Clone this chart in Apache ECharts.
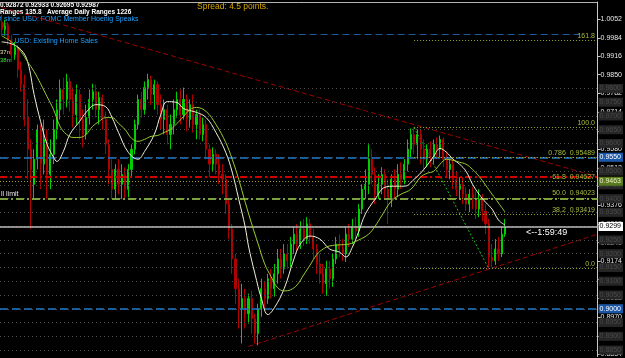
<!DOCTYPE html>
<html><head><meta charset="utf-8">
<script src="https://cdn.jsdelivr.net/npm/echarts@6/dist/echarts.min.js"></script>
<style>html,body{margin:0;padding:0;background:#000;}#c{width:625px;height:358px;}</style>
</head><body><div id="c"></div>
<script>
const openP = [1.0041,1.0013,1.0027,0.9976,0.9922,0.9948,0.9868,0.9814,0.9694,0.9579,
0.9452,0.9543,0.9651,0.9525,0.9615,0.9488,0.9561,0.9651,0.9723,0.9796,
0.9760,0.9825,0.9760,0.9705,0.9778,0.9687,0.9633,0.9694,0.9760,0.9788,
0.9723,0.9767,0.9687,0.9597,0.9506,0.9434,0.9506,0.9452,0.9488,0.9434,
0.9506,0.9579,0.9669,0.9760,0.9723,0.9803,0.9832,0.9778,0.9814,0.9741,
0.9687,0.9723,0.9633,0.9669,0.9723,0.9760,0.9705,0.9760,0.9687,0.9741,
0.9669,0.9705,0.9633,0.9669,0.9579,0.9525,0.9561,0.9525,0.9488,0.9470,
0.9380,0.9290,0.9181,0.9073,0.9000,0.9037,0.8982,0.9037,0.8964,0.8910,
0.9000,0.9073,0.9037,0.9109,0.9073,0.9127,0.9181,0.9145,0.9199,0.9174,
0.9235,0.9271,0.9235,0.9290,0.9253,0.9308,0.9261,0.9217,0.9163,0.9127,
0.9091,0.9145,0.9109,0.9181,0.9235,0.9217,0.9199,0.9271,0.9253,0.9297,
0.9282,0.9362,0.9434,0.9452,0.9543,0.9488,0.9416,0.9452,0.9488,0.9434,
0.9398,0.9470,0.9434,0.9488,0.9470,0.9525,0.9579,0.9633,0.9597,0.9633,
0.9579,0.9543,0.9579,0.9550,0.9597,0.9579,0.9615,0.9543,0.9506,0.9525,
0.9470,0.9434,0.9452,0.9416,0.9380,0.9416,0.9398,0.9362,0.9398,0.9355,
0.9308,0.9188,0.9174,0.9217,0.9199,0.9271];
const closeP = [1.0013,1.0027,0.9976,0.9922,0.9948,0.9868,0.9814,0.9687,0.9579,0.9506,
0.9543,0.9651,0.9525,0.9615,0.9488,0.9561,0.9651,0.9723,0.9796,0.9760,
0.9825,0.9760,0.9705,0.9778,0.9687,0.9633,0.9694,0.9760,0.9788,0.9723,
0.9767,0.9687,0.9597,0.9506,0.9434,0.9506,0.9452,0.9488,0.9434,0.9506,
0.9579,0.9669,0.9760,0.9723,0.9803,0.9832,0.9778,0.9814,0.9741,0.9687,
0.9723,0.9633,0.9669,0.9723,0.9760,0.9705,0.9760,0.9687,0.9741,0.9669,
0.9705,0.9633,0.9669,0.9579,0.9525,0.9561,0.9525,0.9488,0.9470,0.9380,
0.9290,0.9181,0.9073,0.9000,0.9037,0.8982,0.9037,0.8964,0.8910,0.9000,
0.9073,0.9037,0.9109,0.9073,0.9127,0.9181,0.9145,0.9199,0.9174,0.9235,
0.9271,0.9235,0.9290,0.9253,0.9308,0.9261,0.9217,0.9163,0.9127,0.9091,
0.9145,0.9109,0.9181,0.9235,0.9217,0.9199,0.9271,0.9253,0.9297,0.9282,
0.9362,0.9434,0.9452,0.9543,0.9488,0.9416,0.9452,0.9488,0.9434,0.9398,
0.9470,0.9434,0.9488,0.9470,0.9525,0.9579,0.9633,0.9597,0.9633,0.9579,
0.9543,0.9579,0.9550,0.9597,0.9579,0.9615,0.9543,0.9506,0.9525,0.9470,
0.9434,0.9452,0.9416,0.9380,0.9416,0.9398,0.9362,0.9398,0.9355,0.9308,
0.9188,0.9174,0.9217,0.9199,0.9271,0.92987];
const highP = [1.0067,1.0049,1.0041,0.9994,0.9969,0.9958,0.9897,0.9850,0.9760,0.9615,
0.9579,0.9669,0.9669,0.9687,0.9651,0.9615,0.9687,0.9760,0.9832,0.9839,
0.9853,0.9839,0.9803,0.9814,0.9796,0.9723,0.9741,0.9796,0.9817,0.9814,
0.9788,0.9778,0.9716,0.9615,0.9543,0.9525,0.9543,0.9525,0.9514,0.9525,
0.9597,0.9687,0.9778,0.9788,0.9825,0.9853,0.9846,0.9832,0.9825,0.9778,
0.9760,0.9741,0.9705,0.9760,0.9788,0.9796,0.9803,0.9778,0.9760,0.9778,
0.9723,0.9723,0.9694,0.9687,0.9597,0.9586,0.9579,0.9561,0.9525,0.9488,
0.9398,0.9308,0.9199,0.9109,0.9091,0.9073,0.9055,0.9065,0.8982,0.9018,
0.9109,0.9098,0.9127,0.9145,0.9163,0.9217,0.9217,0.9235,0.9235,0.9261,
0.9297,0.9308,0.9318,0.9326,0.9333,0.9326,0.9290,0.9235,0.9199,0.9163,
0.9174,0.9174,0.9199,0.9261,0.9271,0.9253,0.9297,0.9308,0.9326,0.9333,
0.9380,0.9452,0.9506,0.9597,0.9579,0.9514,0.9488,0.9514,0.9506,0.9470,
0.9488,0.9506,0.9525,0.9532,0.9543,0.9615,0.9655,0.9658,0.9651,0.9651,
0.9615,0.9597,0.9608,0.9615,0.9622,0.9629,0.9622,0.9571,0.9550,0.9543,
0.9499,0.9478,0.9478,0.9441,0.9434,0.9441,0.9427,0.9434,0.9416,0.9380,
0.9326,0.9235,0.9253,0.9261,0.9297,0.9326];
const lowP = [0.9994,0.9991,0.9958,0.9897,0.9904,0.9839,0.9788,0.9662,0.9470,0.9290,
0.9398,0.9506,0.9434,0.9488,0.9398,0.9434,0.9525,0.9615,0.9687,0.9705,
0.9731,0.9716,0.9658,0.9669,0.9615,0.9586,0.9615,0.9669,0.9723,0.9694,
0.9669,0.9651,0.9561,0.9452,0.9398,0.9398,0.9416,0.9398,0.9398,0.9405,
0.9478,0.9561,0.9651,0.9694,0.9705,0.9760,0.9741,0.9723,0.9705,0.9651,
0.9633,0.9597,0.9579,0.9633,0.9694,0.9669,0.9687,0.9644,0.9658,0.9640,
0.9615,0.9615,0.9608,0.9543,0.9478,0.9499,0.9488,0.9452,0.9416,0.9344,
0.9253,0.9127,0.9018,0.8928,0.8874,0.8928,0.8946,0.8910,0.8874,0.8867,
0.8971,0.9000,0.9018,0.9037,0.9044,0.9091,0.9109,0.9127,0.9145,0.9152,
0.9199,0.9210,0.9217,0.9228,0.9235,0.9235,0.9181,0.9127,0.9091,0.9055,
0.9047,0.9073,0.9080,0.9163,0.9188,0.9174,0.9170,0.9224,0.9235,0.9253,
0.9261,0.9344,0.9398,0.9416,0.9452,0.9380,0.9398,0.9416,0.9398,0.9308,
0.9369,0.9398,0.9405,0.9434,0.9452,0.9499,0.9550,0.9561,0.9543,0.9525,
0.9499,0.9514,0.9514,0.9525,0.9543,0.9550,0.9514,0.9478,0.9470,0.9434,
0.9409,0.9398,0.9380,0.9355,0.9351,0.9362,0.9326,0.9333,0.9318,0.9271,
0.9146,0.9150,0.9159,0.9174,0.9188,0.9261];

const maFast = [[0,0.9969],[3,0.9962],[6,0.9940],[8,0.9897],[10,0.9778],[12,0.9680],[14,0.9597],[16,0.9550],[17,0.9535],
[19,0.9571],[21,0.9633],[24,0.9680],[26,0.9713],[29,0.9741],[32,0.9734],[34,0.9694],[36,0.9640],[39,0.9568],[42,0.9543],
[44,0.9571],[47,0.9633],[49,0.9705],[51,0.9752],[54,0.9749],[56,0.9727],[60,0.9713],[63,0.9694],[66,0.9640],[69,0.9568],
[71,0.9496],[73,0.9398],[75,0.9297],[76,0.9228],[78,0.9127],[80,0.9037],[82,0.8979],[84,0.9004],[87,0.9073],[90,0.9181],
[92,0.9235],[95,0.9264],[98,0.9253],[101,0.9217],[104,0.9206],[106,0.9188],[108,0.9224],[110,0.9282],[112,0.9344],[115,0.9398],
[118,0.9441],[121,0.9445],[124,0.9445],[127,0.9470],[130,0.9506],[133,0.9553],[135,0.9582],[137,0.9568],[139,0.9543],[141,0.9525],
[143,0.9499],[145,0.9452],[147,0.9416],[149,0.9387],[151,0.9362],[153,0.9322],[155,0.9304]];
const maSlow = [[0,0.9991],[3,0.9969],[6,0.9933],[8,0.9897],[10,0.9861],[12,0.9817],[14,0.9770],[16,0.9723],[18,0.9662],
[20,0.9633],[22,0.9622],[24,0.9622],[26,0.9633],[28,0.9662],[30,0.9680],[32,0.9694],[34,0.9694],[36,0.9673],[38,0.9651],
[40,0.9619],[42,0.9608],[44,0.9615],[46,0.9626],[48,0.9629],[50,0.9640],[52,0.9651],[54,0.9673],[56,0.9698],[58,0.9723],
[60,0.9731],[63,0.9716],[66,0.9669],[69,0.9604],[71,0.9543],[73,0.9470],[75,0.9387],[77,0.9308],[79,0.9235],[81,0.9163],
[83,0.9116],[85,0.9076],[87,0.9065],[89,0.9069],[91,0.9087],[93,0.9123],[95,0.9159],[97,0.9196],[99,0.9217],[101,0.9228],
[104,0.9232],[107,0.9235],[110,0.9250],[113,0.9271],[115,0.9300],[117,0.9337],[120,0.9391],[123,0.9416],[126,0.9434],
[129,0.9478],[131,0.9492],[133,0.9499],[135,0.9525],[137,0.9543],[139,0.9539],[141,0.9532],[143,0.9525],[145,0.9506],
[147,0.9481],[149,0.9449],[151,0.9416],[153,0.9384],[155,0.9351]];

const trendTop = [[0,1.0094],[183,0.9481]];
const trendBottom = [[76,0.8863],[183,0.9269]];
const fibDiagonal = [[127,0.9658],[150,0.9146]];
const fibPrices = [0.91464,0.93419,0.94023,0.94627,0.95489,0.96583,0.99747];
const fibTexts = ["0.0","38.2  0.93419","50.0  0.94023","61.8  0.94627","0.786  0.95489","100.0","161.8"];
const gridLevels = [0.9800,0.9750,0.9700,0.9650,0.9600,0.9550,0.9500,0.9450,0.9400,0.9350,0.9300,0.9250,0.9200,0.9150,0.9100,0.9050,0.9000,0.8950,0.8900,0.8850];
const newsLevel = 0.9997;
const blueLevels = [0.9550,0.9000];
const redLevel = 0.9478, oliveLevel = 0.9463, limitLevel = 0.9400;
const yTickLabels = ["1.0052","0.9984","0.9916","0.9850","0.9782","0.9714","0.9646","0.9580","0.9512","0.9444","0.9376","0.9308","0.9240","0.9174","0.9106","0.9038","0.8970","0.8902","0.8834"];
const barSlots = 184;

const categories = Array.from({length: barSlots}, (_, i) => String(i));
const yTickValues = yTickLabels.map(Number);
const lastClose = closeP[closeP.length - 1];
const F = 'Liberation Sans, Arial, sans-serif';

const boxLabel = (txt, bg, fg) => ({show:true, position:'end', distance:1, formatter:txt, color:fg, backgroundColor:bg,
  fontSize:7, fontFamily:F, padding:[1,2,0,1], lineHeight:8});

const gridMarks = gridLevels.map(v => ({yAxis:v, lineStyle:{color:'#4e4e4e', type:[1,3], width:1},
  label: boxLabel(v.toFixed(4), '#262626', '#4a4a4a')}));

const objMarks = [];
objMarks.push([{coord:[0, newsLevel], lineStyle:{color:'#1c5a9c', type:[7,4], width:1}, label:{show:false}}, {coord:[178, newsLevel]}]);
blueLevels.forEach(v => objMarks.push({yAxis:v, lineStyle:{color:'#1f78c8', type:[8,4], width:1.5}, label: boxLabel(v.toFixed(4), '#1a56a8', '#ffffff')}));
objMarks.push({yAxis:redLevel, lineStyle:{color:'#d00000', type:[7,3,2,3], width:2}, label:{show:false}});
objMarks.push({yAxis:oliveLevel, lineStyle:{color:'#a0a030', type:[1,2], width:1}, label: boxLabel(oliveLevel.toFixed(4), '#5a7a20', '#e8f0c0')});
objMarks.push({yAxis:limitLevel, lineStyle:{color:'#7aa040', type:[8,3,2,3], width:2},
  label:{show:true, position:'insideStartTop', distance:1, formatter:'ll limit', color:'#e8e8e8', fontSize:7, fontFamily:F}});
objMarks.push({yAxis:lastClose, lineStyle:{color:'#b8bcb8', type:'solid', width:1.5}, label: boxLabel(lastClose.toFixed(4), '#ffffff', '#000000')});

const fibMarks = fibPrices.map((p, k) => [
  {coord:[fibDiagonal[0][0], p], lineStyle:{color:'#9aa828', type:[1,2], width:1},
   label:{show:true, position:'insideEndTop', distance:1, formatter:fibTexts[k], color:'#a8bc3c', fontSize:7, fontFamily:F}},
  {coord:[barSlots-1, p]}
]);

const lineSeries = (data, color, width, type, smooth, z) => ({type:'line', data, smooth, symbol:'none', showSymbol:false,
  lineStyle:{color, width, type}, silent:true, z: z || 3, animation:false});
const markHost = (marks, z) => ({type:'line', data:[], z, silent:true, animation:false,
  markLine:{symbol:['none','none'], precision:6, silent:true, animation:false, data:marks}});

const option = {
  backgroundColor:'#000000',
  animation:false,
  grid:{left:0, right:18, top:2, bottom:0, containLabel:false},
  xAxis:{type:'category', data:categories, position:'top', boundaryGap:true,
    axisLine:{show:true, lineStyle:{color:'#b4b4b4', width:1}}, axisTick:{show:false}, axisLabel:{show:false}, splitLine:{show:false}},
  yAxis:{type:'value', position:'right', min:0.88268, max:1.01138, z:1,
    axisLine:{show:true, lineStyle:{color:'#c8c8c8', width:1}},
    axisTick:{show:true, length:3, lineStyle:{color:'#c8c8c8'}, customValues:yTickValues},
    axisLabel:{show:true, color:'#e8e8e8', fontSize:7, fontFamily:F, margin:3, customValues:yTickValues,
      formatter: v => yTickLabels[yTickValues.indexOf(v)] || v.toFixed(4)},
    splitLine:{show:false}},
  series:[
    markHost(gridMarks, 0),
    markHost(objMarks, 2),
    markHost(fibMarks, 2),
    {type:'candlestick', data: openP.map((o,i)=>[o, closeP[i], lowP[i], highP[i]]), barWidth:1.6, z:4,
      itemStyle:{color:'#00d000', color0:'#b00000', borderColor:'#00d000', borderColor0:'#b00000', borderWidth:1}},
    lineSeries(maFast, '#f0f0dc', 1, 'solid', 0.4, 5),
    lineSeries(maSlow, '#9acd32', 1, 'solid', 0.4, 5),
    lineSeries(trendTop, '#a00000', 1, [5,3], false),
    lineSeries(trendBottom, '#a00000', 1, [5,3], false),
    lineSeries(fibDiagonal, '#22c022', 1, [2,2], false)
  ],
  graphic:[
    {type:'text', left:0, top:2, style:{text:'0.92872 0.92933 0.92695 0.92987', fill:'#ffffff', font:'bold 6.5px ' + F}},
    {type:'text', left:0, top:9, style:{text:'Ranges 135.8   Average Daily Ranges 1226', fill:'#ffffff', font:'bold 6.5px ' + F}},
    {type:'text', left:0, top:16, style:{text:'t since USD: FOMC Member Hoenig Speaks', fill:'#1ea0ff', font:'7px ' + F}},
    {type:'text', left:11, top:38, style:{text:'l USD: Existing Home Sales', fill:'#1ea0ff', font:'7px ' + F}},
    {type:'text', left:3, top:22, style:{text:'m', fill:'#e02020', font:'7px ' + F}},
    {type:'text', left:0, top:49, style:{text:'37m', fill:'#e0e0b0', font:'6px ' + F}},
    {type:'text', left:0, top:57, style:{text:'38m', fill:'#40e040', font:'6px ' + F}},
    {type:'text', left:197, top:2, style:{text:'Spread: 4.5 points.', fill:'#d8a800', font:'8.5px ' + F}},
    {type:'text', left:526, top:228, style:{text:'<--1:59:49', fill:'#ffffff', font:'9px ' + F}}
  ]
};
const chart = echarts.init(document.getElementById('c'));
chart.setOption(option);
</script>
</body></html>
